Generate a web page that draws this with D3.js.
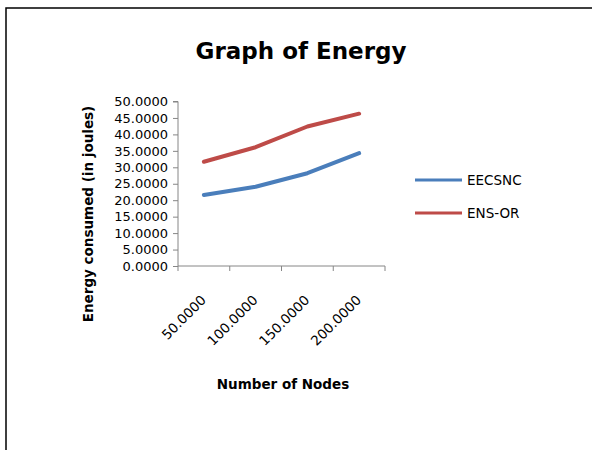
<!DOCTYPE html>
<html>
<head>
<meta charset="utf-8">
<script src="https://cdn.jsdelivr.net/npm/d3@7"></script>
<style>
  body { margin: 0; background: #fff; }
  svg { display: block; font-family: "DejaVu Sans", sans-serif; }
</style>
</head>
<body>
<svg width="592" height="450"></svg>
<script>
const categories = ['50.0000', '100.0000', '150.0000', '200.0000'];
const eecsnc = [21.6, 24.1, 28.2, 34.3];
const ensOr = [31.7, 36.1, 42.4, 46.3];
const yTicks = [0, 5, 10, 15, 20, 25, 30, 35, 40, 45, 50];
const seriesNames = ['EECSNC', 'ENS-OR'];
const colors = ['#4a7ebb', '#be4b48'];

const svg = d3.select('svg');

// outer frame (cut off at right and bottom like the screenshot)
svg.append('path')
    .attr('d', 'M6,460 L6,8 L600,8')
    .style('fill', 'none')
    .style('stroke', '#000')
    .style('stroke-width', 1.5);

const plotLeft = 178;
const plotRight = 385;
const plotTop = 101.5;
const plotBottom = 266;

const xScale = d3.scaleBand()
    .domain(categories)
    .range([plotLeft, plotRight]);
const yScale = d3.scaleLinear()
    .domain([0, 50])
    .range([plotBottom, plotTop]);

const yAxis = d3.axisLeft(yScale)
    .tickValues(yTicks)
    .tickSize(5)
    .tickFormat(d3.format('.4f'));
const yG = svg.append('g')
    .attr('transform', `translate(${plotLeft}, 0)`)
    .call(yAxis);
yG.select('.domain').attr('d', `M-5,${plotTop}H0V${plotBottom}`).style('stroke', '#868686');
yG.selectAll('.tick line').style('stroke', '#868686');
yG.selectAll('.tick text')
    .attr('x', -10)
    .style('font-family', '"DejaVu Sans", sans-serif')
    .style('font-size', '13px')
    .style('fill', '#000');

// x axis with ticks on the band edges
const xG = svg.append('g')
    .attr('transform', `translate(0, ${plotBottom})`);
xG.append('line')
    .attr('x1', plotLeft).attr('x2', plotRight)
    .attr('y1', 0).attr('y2', 0)
    .style('stroke', '#868686');
const edges = categories.map(c => xScale(c)).concat([plotRight]);
xG.selectAll('line.tk')
    .data(edges)
    .enter()
    .append('line')
    .attr('class', 'tk')
    .attr('x1', d => d).attr('x2', d => d)
    .attr('y1', 0).attr('y2', 5)
    .style('stroke', '#868686');
xG.selectAll('text.cat')
    .data(categories)
    .enter()
    .append('text')
    .attr('class', 'cat')
    .attr('transform', d => `translate(${xScale(d) + xScale.bandwidth() / 2 + 3}, 35) rotate(-45)`)
    .attr('text-anchor', 'end')
    .style('font-size', '13.5px')
    .text(d => d);

const line = d3.line()
    .x((d, i) => xScale(categories[i]) + xScale.bandwidth() / 2)
    .y(d => yScale(d));

[eecsnc, ensOr].forEach((s, i) => {
  svg.append('path')
      .datum(s)
      .attr('d', line)
      .style('fill', 'none')
      .style('stroke', colors[i])
      .style('stroke-width', 4)
      .style('stroke-linecap', 'round')
      .style('stroke-linejoin', 'round');
});

// title
svg.append('text')
    .attr('x', 301)
    .attr('y', 59)
    .attr('text-anchor', 'middle')
    .style('font-size', '23px')
    .style('font-weight', 'bold')
    .text('Graph of Energy');

// axis titles
svg.append('text')
    .attr('transform', 'translate(93, 214) rotate(-90)')
    .attr('text-anchor', 'middle')
    .style('font-size', '13.5px')
    .style('font-weight', 'bold')
    .text('Energy consumed (in joules)');
svg.append('text')
    .attr('x', 283)
    .attr('y', 389)
    .attr('text-anchor', 'middle')
    .style('font-size', '13.5px')
    .style('font-weight', 'bold')
    .text('Number of Nodes');

// legend
const legend = svg.selectAll('g.legend')
    .data(seriesNames)
    .enter()
    .append('g')
    .attr('class', 'legend')
    .attr('transform', (d, i) => `translate(415, ${180 + i * 33})`);
legend.append('line')
    .attr('x1', 0).attr('x2', 47)
    .attr('y1', 0).attr('y2', 0)
    .style('stroke', (d, i) => colors[i])
    .style('stroke-width', 3);
legend.append('text')
    .attr('x', 52)
    .attr('dy', '0.36em')
    .style('font-size', '13.5px')
    .text(d => d);
</script>
</body>
</html>
